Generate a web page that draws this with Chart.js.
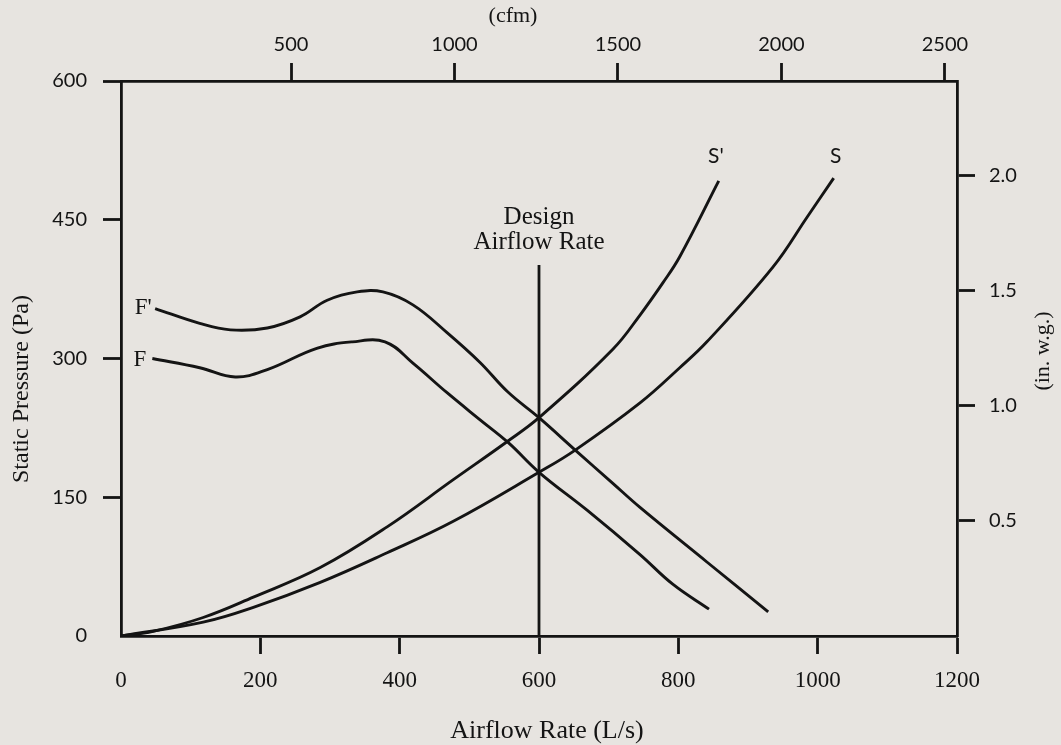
<!DOCTYPE html>
<html>
<head>
<meta charset="utf-8">
<script src="https://cdn.jsdelivr.net/npm/chart.js@4.4.1/dist/chart.umd.min.js"></script>
<style>
  html, body { margin: 0; padding: 0; background: #e7e4e0; }
  #wrap { width: 1061px; height: 745px; position: relative; }
</style>
</head>
<body>
<div id="wrap"><canvas id="chart_fanSystemCurves"></canvas></div>
<script>
// airflow in L/s, static pressure in Pa
const fPrimeFlow  = [49, 113, 157, 210, 257, 296, 339, 376, 419, 468, 515, 555, 600, 652, 706, 745, 841, 929];
const fPrimePress = [354, 338, 331, 333, 345, 363, 372, 372, 358, 328, 296, 264, 236, 201, 165, 139, 80, 26];

const fFlow  = [45, 113, 164, 210, 281, 332, 379, 419, 468, 515, 556, 600, 669, 745, 792, 844];
const fPress = [300, 290, 280, 288, 311, 318, 318, 295, 263, 234, 209, 177, 136, 88, 56, 29];

const sPrimeFlow  = [0, 46, 118, 190, 286, 382, 477, 554, 600, 706, 745, 778, 802, 858];
const sPrimePress = [0, 5, 20, 42, 74, 118, 169, 210, 236, 310, 347, 382, 410, 492];

const sFlow  = [0, 118, 190, 286, 382, 477, 600, 652, 745, 802, 841, 936, 985, 1023];
const sPress = [0, 15, 31, 58, 90, 124, 177, 201, 252, 290, 318, 399, 453, 495];

const designFlow  = [600, 600];
const designPress = [0, 401];

// tick labels
const flowTicks  = [0, 200, 400, 600, 800, 1000, 1200];
const pressTicks = [0, 150, 300, 450, 600];
const cfmTicks   = [500, 1000, 1500, 2000, 2500];
const inwgTicks  = [0.5, 1.0, 1.5, 2.0];

const curveLabels = [
  { text: "F'", x: 32, y: 355, serif: true },
  { text: 'F', x: 27, y: 298, serif: true },
  { text: "S'", x: 854, y: 519, serif: false },
  { text: 'S', x: 1026, y: 519, serif: false }
];
const designLabel = { lines: ['Design', 'Airflow Rate'], x: 600, y: [452, 425] };

const PA_PER_INWG = 249.09;
const INK = '#141414';
const SERIF = '"Liberation Serif", "DejaVu Serif", serif';
const SANS = 'Lato, "Open Sans", sans-serif';

function toPoints(xs, ys) {
  return xs.map((x, i) => ({ x: x, y: ys[i] }));
}

function curve(label, xs, ys) {
  return {
    label: label,
    data: toPoints(xs, ys),
    borderColor: INK,
    borderWidth: 2.9,
    pointRadius: 0,
    fill: false,
    tension: 0.4
  };
}

function fixedTicks(list) {
  return (scale) => { scale.ticks = list.map(v => ({ value: v })); };
}

const hideZeroTick = (c) => (c.tick && c.tick.value === 0) ? 'rgba(0,0,0,0)' : INK;

const axisGrid = {
  display: true,
  drawOnChartArea: false,
  drawTicks: true,
  tickLength: 18,
  tickWidth: 2.8,
  tickColor: hideZeroTick,
  color: INK
};
const axisBorder = { display: true, color: INK, width: 2.8 };

var chart_fanSystemCurves = new Chart(document.getElementById('chart_fanSystemCurves'), {
  type: 'line',
  data: {
    datasets: [
      curve("F'", fPrimeFlow, fPrimePress),
      curve('F', fFlow, fPress),
      curve("S'", sPrimeFlow, sPrimePress),
      curve('S', sFlow, sPress),
      {
        label: 'Design Airflow Rate',
        data: toPoints(designFlow, designPress),
        borderColor: INK,
        borderWidth: 2.8,
        pointRadius: 0,
        tension: 0
      }
    ]
  },
  options: {
    animation: false,
    responsive: true,
    maintainAspectRatio: false,
    layout: { padding: 0 },
    plugins: {
      legend: { display: false },
      tooltip: { enabled: false }
    },
    scales: {
      x: {
        type: 'linear',
        position: 'bottom',
        min: 0,
        max: 1200,
        afterBuildTicks: fixedTicks(flowTicks),
        afterFit: (s) => { s.height = 109; },
        grid: axisGrid,
        border: axisBorder,
        ticks: { color: INK, padding: 13, font: { family: SERIF, size: 23 }, callback: (v) => String(v) }
      },
      xTop: {
        type: 'linear',
        position: 'top',
        min: -20,
        max: 2537,
        afterBuildTicks: fixedTicks(cfmTicks),
        afterFit: (s) => { s.height = 81; },
        grid: axisGrid,
        border: axisBorder,
        ticks: { color: INK, padding: 6, font: { family: SANS, size: 20 }, callback: (v) => String(v) }
      },
      y: {
        type: 'linear',
        position: 'left',
        min: 0,
        max: 600,
        afterBuildTicks: fixedTicks(pressTicks),
        afterFit: (s) => { s.width = 121; },
        grid: axisGrid,
        border: axisBorder,
        ticks: { color: INK, padding: 16, font: { family: SANS, size: 20 }, callback: (v) => String(v) }
      },
      yRight: {
        type: 'linear',
        position: 'right',
        min: 0,
        max: 600 / PA_PER_INWG,
        afterBuildTicks: fixedTicks(inwgTicks),
        afterFit: (s) => { s.width = 104; },
        grid: axisGrid,
        border: axisBorder,
        ticks: {
          color: INK, padding: 14, font: { family: SANS, size: 20 },
          callback: (v) => Number(v).toFixed(1)
        }
      }
    }
  },
  plugins: [{
    id: 'paperAndText',
    beforeDraw: (chart) => {
      const ctx = chart.ctx;
      ctx.save();
      ctx.fillStyle = '#e7e4e0';
      ctx.fillRect(0, 0, chart.width, chart.height);
      ctx.restore();
    },
    afterDatasetsDraw: (chart) => {
      const ctx = chart.ctx;
      const xs = chart.scales.x, ys = chart.scales.y;
      ctx.save();
      ctx.fillStyle = INK;
      ctx.textAlign = 'center';
      ctx.textBaseline = 'middle';

      curveLabels.forEach(l => {
        ctx.font = l.serif ? '23px ' + SERIF : '21px ' + SANS;
        ctx.fillText(l.text, xs.getPixelForValue(l.x), ys.getPixelForValue(l.y));
      });

      ctx.font = '25px ' + SERIF;
      designLabel.lines.forEach((t, i) => {
        ctx.fillText(t, xs.getPixelForValue(designLabel.x), ys.getPixelForValue(designLabel.y[i]));
      });

      // axis titles
      ctx.font = '26px ' + SERIF;
      ctx.fillText('Airflow Rate (L/s)', 547, 731);
      ctx.font = '22px ' + SERIF;
      ctx.fillText('(cfm)', 513, 16);

      ctx.font = '24px ' + SERIF;
      ctx.save();
      ctx.translate(22, 389);
      ctx.rotate(-Math.PI / 2);
      ctx.fillText('Static Pressure (Pa)', 0, 0);
      ctx.restore();

      ctx.font = '22px ' + SERIF;
      ctx.save();
      ctx.translate(1043, 351);
      ctx.rotate(-Math.PI / 2);
      ctx.fillText('(in. w.g.)', 0, 0);
      ctx.restore();

      ctx.restore();
    }
  }]
});
</script>
</body>
</html>
